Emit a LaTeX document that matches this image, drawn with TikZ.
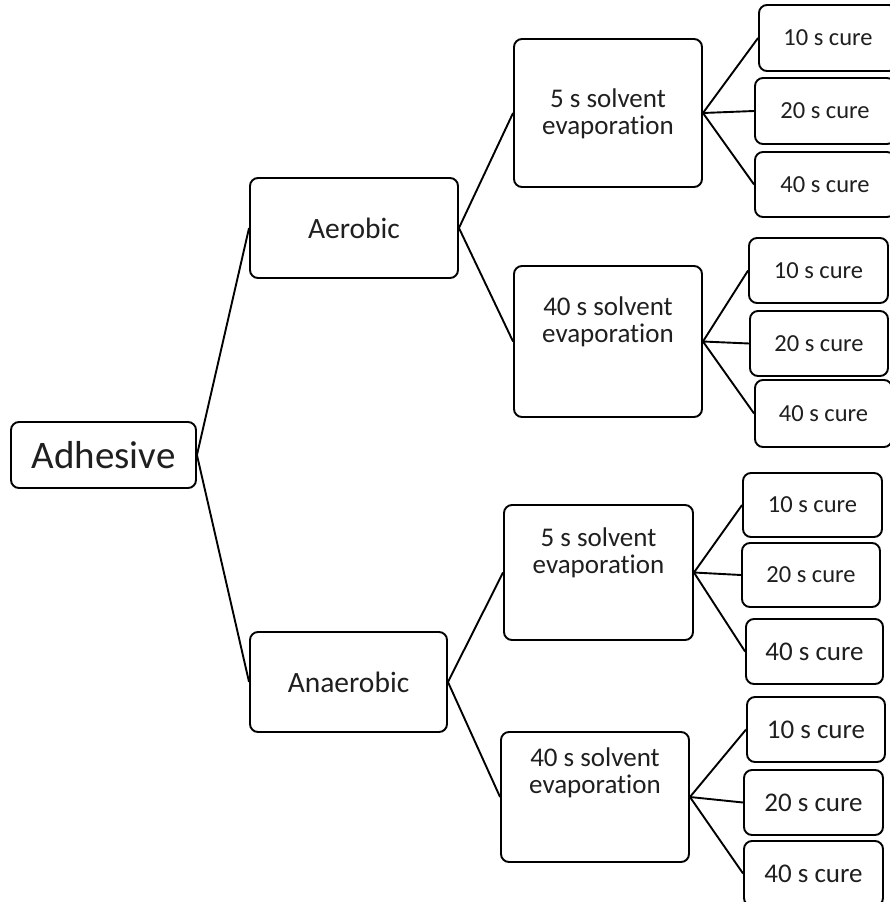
\documentclass[tikz,border=0pt]{standalone}
\usepackage{fontspec}
\setmainfont{Carlito}[Ligatures=NoCommon]
\begin{document}
\begin{tikzpicture}[x=1pt,y=-1pt,
  box/.style={draw=black,line width=1.9pt,rounded corners=8pt,inner sep=0pt,fill=white},
  txt/.style={inner sep=0pt,align=center,text=black!88},
  link/.style={draw=black,line width=1.9pt},
  big/.style={font=\fontsize{39}{39}\selectfont},
  mid/.style={font=\fontsize{29.5}{30}\selectfont},
  sol/.style={font=\fontsize{27}{27}\selectfont},
  cure/.style={font=\fontsize{24.5}{25}\selectfont},
  curb/.style={font=\fontsize{27}{27}\selectfont}]
\useasboundingbox (0,0) rectangle (889,902);
% level 0
\node[box,minimum width=185pt,minimum height=66pt,big,text=black!88] (adh) at (103.5,455) {Adhesive};
% level 1
\node[box,minimum width=208pt,minimum height=100pt,mid,text=black!88] (aer) at (354,228) {Aerobic};
\node[box,minimum width=197pt,minimum height=100pt,mid,text=black!88] (ana) at (348.5,682) {Anaerobic};
% level 2
\node[box,minimum width=188pt,minimum height=148pt] (s1) at (608,113) {};
\node[txt,sol] (s1t) at (608,113.5) {5 s solvent\\evaporation};
\node[box,minimum width=188pt,minimum height=151pt] (s2) at (608,341.5) {};
\node[txt,sol] (s2t) at (608,321.5) {40 s solvent\\evaporation};
\node[box,minimum width=189pt,minimum height=135pt] (s3) at (598.5,572.5) {};
\node[txt,sol] (s3t) at (598.5,553) {5 s solvent\\evaporation};
\node[box,minimum width=188pt,minimum height=130pt] (s4) at (595,797) {};
\node[txt,sol] (s4t) at (595,773) {40 s solvent\\evaporation};
% level 3
\tikzset{box/.append style={text=black!88}}
\node[box,minimum width=138pt,minimum height=66pt,cure] (c11) at (828,38) {10 s cure};
\node[box,minimum width=140pt,minimum height=66pt,cure] (c12) at (825,111) {20 s cure};
\node[box,minimum width=140pt,minimum height=65pt,cure] (c13) at (825,184.5) {40 s cure};
\node[box,minimum width=139pt,minimum height=65pt,cure] (c21) at (818.5,270.5) {10 s cure};
\node[box,minimum width=138pt,minimum height=65pt,cure] (c22) at (819,343.5) {20 s cure};
\node[box,minimum width=137pt,minimum height=67pt,cure] (c23) at (823.5,413.5) {40 s cure};
\node[box,minimum width=139pt,minimum height=64pt,cure] (c31) at (812.5,505) {10 s cure};
\node[box,minimum width=138pt,minimum height=64pt,cure] (c32) at (811,575) {20 s cure};
\node[box,minimum width=137pt,minimum height=65pt,curb] (c33) at (814.5,651.5) {40 s cure};
\node[box,minimum width=138pt,minimum height=65pt,curb] (c41) at (816,729.5) {10 s cure};
\node[box,minimum width=139pt,minimum height=65pt,curb] (c42) at (813.5,802.5) {20 s cure};
\node[box,minimum width=139pt,minimum height=65pt,curb] (c43) at (813.5,873.5) {40 s cure};
% connectors
\draw[link] (adh.east) -- (aer.west);
\draw[link] (adh.east) -- (ana.west);
\draw[link] (aer.east) -- (s1.west);
\draw[link] (aer.east) -- (s2.west);
\draw[link] (ana.east) -- (s3.west);
\draw[link] (ana.east) -- (s4.west);
\foreach \p/\c in {s1/c11,s1/c12,s1/c13,s2/c21,s2/c22,s2/c23,s3/c31,s3/c32,s3/c33,s4/c41,s4/c42,s4/c43}
  \draw[link] (\p.east) -- (\c.west);
\end{tikzpicture}
\end{document}
